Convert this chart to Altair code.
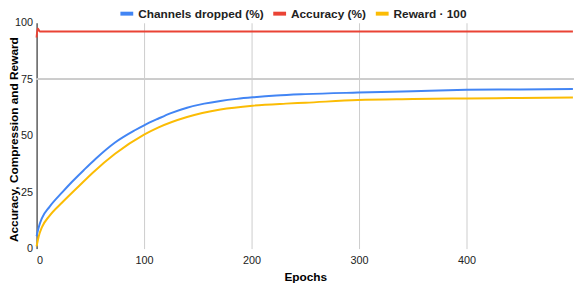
import altair as alt
import pandas as pd

series_order = ["Channels dropped (%)", "Accuracy (%)", "Reward · 100"]
colors = ["#4285F4", "#EA4335", "#FBBC04"]

epochs_ch = [0, 2, 5, 12, 24, 33, 44, 55, 73, 91, 100, 113, 125, 140, 156, 171, 186, 201, 223, 250, 299, 350, 400, 450, 499]
channels = [5.5, 9.5, 13.5, 18.5, 25.0, 29.6, 34.8, 39.8, 47.0, 52.3, 54.6, 57.5, 60.0, 62.4, 64.2, 65.4, 66.3, 67.0, 67.8, 68.4, 69.1, 69.7, 70.3, 70.5, 70.7]

epochs_acc = [0, 1, 3, 100, 200, 300, 400, 499]
accuracy = [93.5, 97.5, 96.1, 96.1, 96.1, 96.1, 96.1, 96.1]

epochs_rw = [0, 2, 5, 12, 24, 39, 52, 73, 100, 113, 140, 171, 201, 232, 250, 299, 350, 400, 450, 499]
reward = [1.0, 5.5, 9.5, 14.5, 20.5, 27.5, 33.5, 42.0, 50.5, 53.6, 58.3, 61.6, 63.3, 64.2, 64.6, 65.8, 66.2, 66.5, 66.7, 66.9]

x_ticks = [0, 100, 200, 300, 400]
y_ticks = [0, 25, 50, 75, 100]
y_grid = 75

rows = []
for e, v in zip(epochs_ch, channels):
    rows.append({"epoch": e, "value": v, "series": series_order[0]})
for e, v in zip(epochs_acc, accuracy):
    rows.append({"epoch": e, "value": v, "series": series_order[1]})
for e, v in zip(epochs_rw, reward):
    rows.append({"epoch": e, "value": v, "series": series_order[2]})
df = pd.DataFrame(rows)

xscale = alt.Scale(domain=[0, 500], nice=False)
yscale = alt.Scale(domain=[0, 100], nice=False)

lines = alt.Chart(df).mark_line(strokeWidth=2, interpolate="monotone").encode(
    x=alt.X("epoch:Q", scale=xscale, axis=alt.Axis(
        values=x_ticks, title="Epochs", grid=True, gridColor="#cccccc",
        domain=False, ticks=False, labelPadding=6, labelFontSize=11,
        labelColor="#222222", titleFontSize=12, titleFontWeight="bold",
        titleColor="#000000", titleX=272.5, titleY=28, titleBaseline="middle",
        titleAlign="center")),
    y=alt.Y("value:Q", scale=yscale, axis=alt.Axis(
        values=y_ticks, title="Accuracy, Compression and Reward", grid=False,
        domainColor="#222222", ticks=False, labelPadding=4, labelFontSize=11,
        labelColor="#222222", titleFontSize=12, titleFontWeight="bold",
        titleColor="#000000", titleX=-23, titleY=118, titleAngle=-90,
        titleBaseline="middle", titleAlign="center")),
    color=alt.Color("series:N", scale=alt.Scale(domain=series_order, range=colors),
                    sort=series_order,
                    legend=alt.Legend(orient="none", legendX=83, legendY=-18,
                                      direction="horizontal", title=None,
                                      symbolType="stroke", symbolStrokeWidth=4,
                                      symbolSize=169, labelFontSize=12,
                                      labelFontWeight="bold", labelOffset=3,
                                      columnPadding=1, padding=0,
                                      labelColor="#222222")),
)

grid75 = alt.Chart(df).mark_rule(color="#cccccc", strokeWidth=1).encode(
    y=alt.datum(y_grid, scale=yscale)
)

chart = alt.layer(grid75, lines).properties(
    width=545, height=229,
    padding={"left": 29, "top": 13, "right": 0, "bottom": 40},
    autosize=alt.AutoSizeParams(type="none"),
).configure(font="Liberation Sans").configure_view(stroke=None)

chart.save("out.html", embed_options={"renderer": "svg", "actions": False})
